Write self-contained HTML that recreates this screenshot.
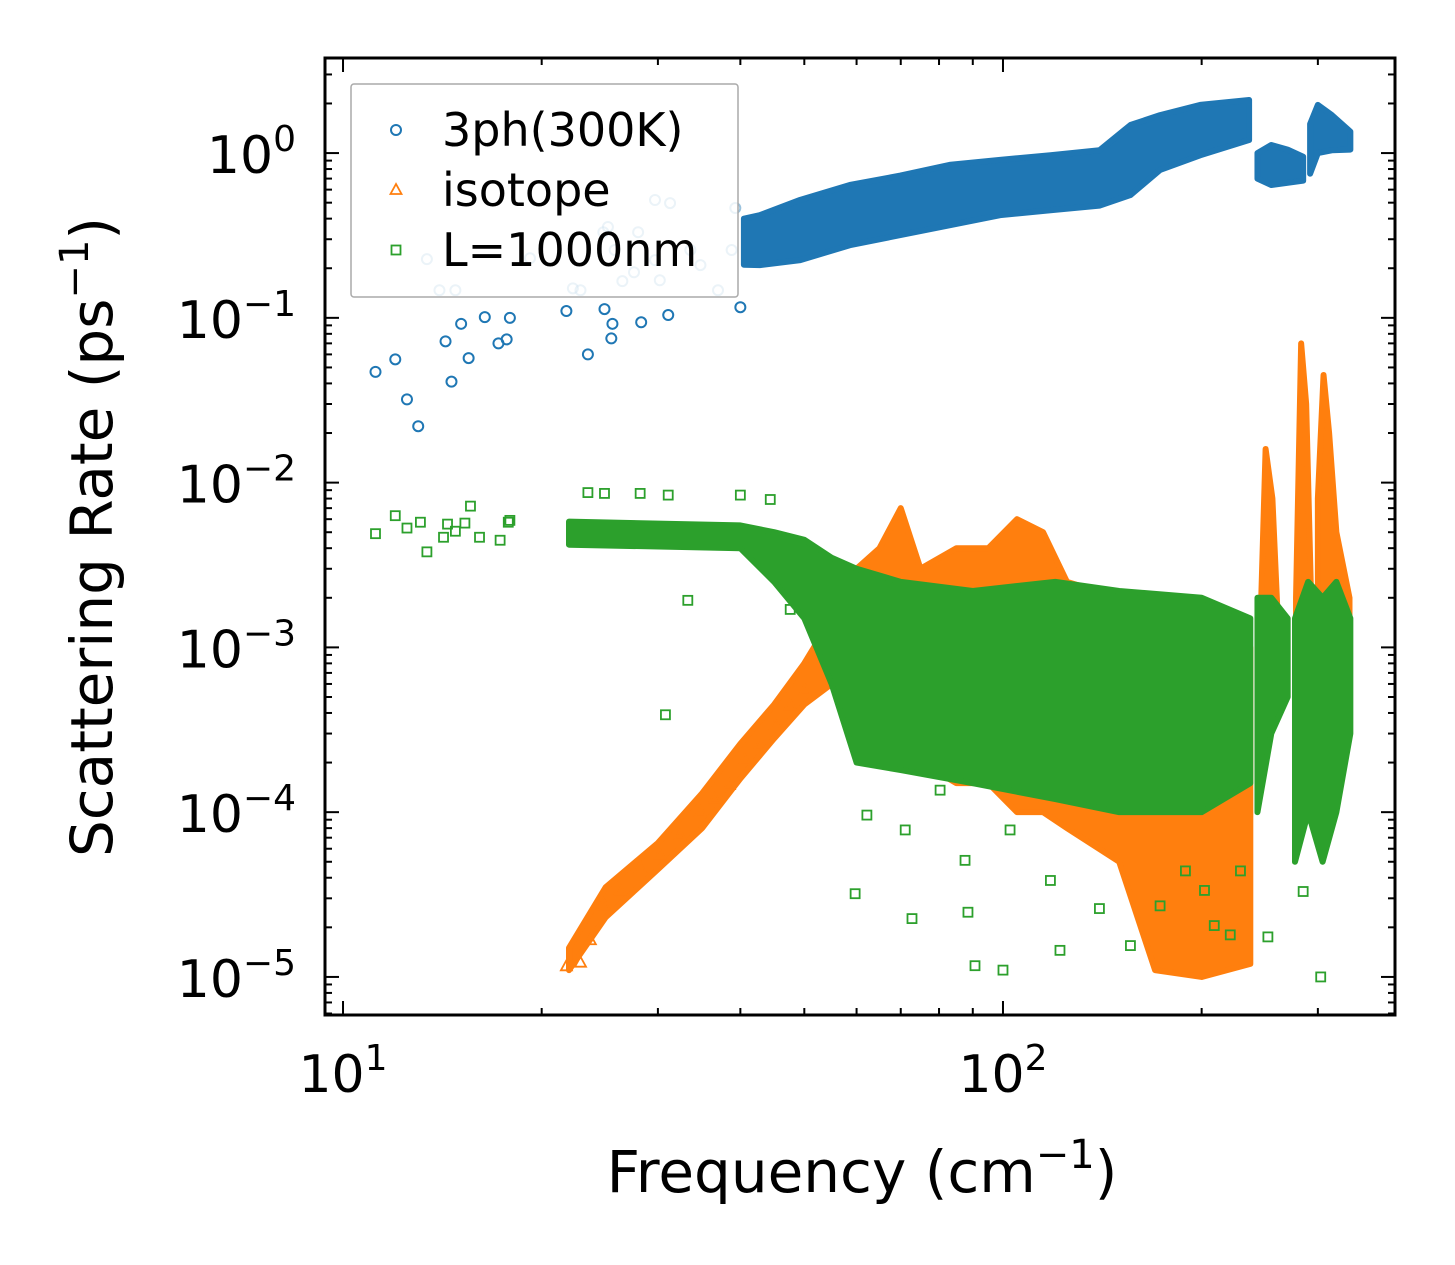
<!DOCTYPE html>
<html>
<head>
<meta charset="utf-8">
<style>
html,body{margin:0;padding:0;background:#fff;}
svg{display:block;}
text{font-family:"DejaVu Sans","Liberation Sans",sans-serif;fill:#000;}
</style>
</head>
<body>
<svg id="chart" width="1455" height="1265" viewBox="0 0 1455 1265" xmlns="http://www.w3.org/2000/svg">
  <rect x="0" y="0" width="1455" height="1265" fill="#fff"/>
  <g id="marks"></g>
  <g id="axes"></g>
  <g id="legend"></g>
  <text x="862" y="1192" font-size="58" text-anchor="middle">Frequency (cm<tspan font-size="40" dy="-24">−1</tspan><tspan dy="24">)</tspan></text>
  <text transform="translate(112,537) rotate(-90)" font-size="58" text-anchor="middle">Scattering Rate (ps<tspan font-size="40" dy="-24">−1</tspan><tspan dy="24">)</tspan></text>
</svg>
<script>
// ---- data (frequency in cm^-1, rate in ps^-1) ----
const blueScatterF = [11.2,12.0,12.5,13.0,14.3,14.6,15.1,15.5,16.4,17.2,17.7,17.9,21.8,23.5,24.9,25.5,25.6,28.3,31.1,40.0];
const blueScatterV = [0.047,0.056,0.032,0.022,0.072,0.041,0.092,0.057,0.101,0.070,0.074,0.10,0.11,0.060,0.113,0.075,0.092,0.094,0.104,0.116];
const blueFaintF = [13.4,14.0,14.8,19.2,22.3,22.9,24.8,25.2,25.8,26.5,27.6,28.0,29.7,31.3,29.7,30.2,33.6,34.8,37.0,39.3,38.8];
const blueFaintV = [0.227,0.147,0.147,0.23,0.151,0.147,0.331,0.356,0.258,0.167,0.189,0.331,0.519,0.497,0.224,0.169,0.258,0.209,0.147,0.464,0.258];
const blueBandF  = [40.5,42.8,49.3,58.6,69.9,83.3,99,118,140,156,173,199,236];
const blueBandLo = [0.21,0.209,0.224,0.276,0.318,0.366,0.42,0.45,0.48,0.556,0.79,0.97,1.20];
const blueBandHi = [0.40,0.42,0.52,0.64,0.73,0.85,0.91,0.97,1.04,1.48,1.70,1.96,2.10];
const blueClusterF  = [243,255,270,285];
const blueClusterLo = [0.70,0.64,0.66,0.68];
const blueClusterHi = [1.0,1.12,1.05,0.95];
const blueCluster2F  = [292,300,315,336];
const blueCluster2Lo = [0.75,1.0,1.04,1.05];
const blueCluster2Hi = [1.5,1.96,1.7,1.35];

const orangeF = [21.8,22.9,23.7,24.9,26.3,28.2,30.2,32.4,34.8,36.6,38.5,40.6,42.8,45.2,47.6,50.1];
const orangeV = [1.16e-5,1.22e-5,1.67e-5,2.7e-5,3.35e-5,4.6e-5,5.5e-5,7.2e-5,1.0e-4,1.21e-4,1.46e-4,2.07e-4,2.55e-4,3.37e-4,4.45e-4,5.5e-4];
const orangeBandF  = [22,25,30,35,40,45,50,55,60,65,70,75,85,95,105,115,125,150,170,200,237];
const orangeBandLo = [1.1e-5,2.3e-5,4.5e-5,8e-5,1.6e-4,2.8e-4,4.5e-4,6e-4,4e-4,3e-4,2e-4,2e-4,1.5e-4,1.5e-4,1e-4,1e-4,8e-5,5e-5,1.1e-5,1e-5,1.2e-5];
const orangeBandHi = [1.5e-5,3.5e-5,6.5e-5,1.3e-4,2.6e-4,4.5e-4,8e-4,1.5e-3,3e-3,4e-3,7e-3,3e-3,4e-3,4e-3,6e-3,5e-3,2.5e-3,2e-3,1.5e-3,1e-3,1e-3];
const orangeSpikeF  = [245,250,256,262, 278,283,288,293, 300,306,312,320,335];
const orangeSpikeLo = [5e-4,5e-4,5e-4,5e-4, 1e-3,1e-3,1e-3,1e-3, 1e-3,1e-3,1e-3,1e-3,1e-3];
const orangeSpikeHi = [1e-3,1.6e-2,8e-3,1e-3, 2e-3,7e-2,3e-2,2e-3, 8e-3,4.5e-2,2e-2,5e-3,2e-3];

const greenF = [11.2,12.0,12.5,13.1,13.4,14.2,14.4,14.8,15.3,15.6,16.1,17.3,17.8,17.9,23.5,24.9,28.2,31.1,33.3,30.8,40,44.4,47.6,
  59.7,62.2,71.1,72.8,80.3,87.6,88.5,90.7,100,102.5,118,122,140,156,173,189,202,209,221,229,252,303,285];
const greenV = [4.9e-3,6.3e-3,5.3e-3,5.75e-3,3.8e-3,4.66e-3,5.6e-3,5.07e-3,5.68e-3,7.2e-3,4.66e-3,4.47e-3,5.75e-3,5.9e-3,8.7e-3,8.6e-3,8.6e-3,8.4e-3,1.93e-3,3.9e-4,8.4e-3,7.9e-3,1.7e-3,
  3.2e-5,9.6e-5,7.8e-5,2.26e-5,1.36e-4,5.1e-5,2.47e-5,1.17e-5,1.1e-5,7.8e-5,3.85e-5,1.45e-5,2.6e-5,1.55e-5,2.7e-5,4.4e-5,3.35e-5,2.05e-5,1.8e-5,4.4e-5,1.75e-5,1.0e-5,3.3e-5];
const greenBandF  = [22,40,45,50,55,60,70,90,120,150,200,237];
const greenBandLo = [4.2e-3,4e-3,2.5e-3,1.5e-3,6e-4,2e-4,1.8e-4,1.5e-4,1.2e-4,1e-4,1e-4,1.5e-4];
const greenBandHi = [5.8e-3,5.5e-3,5e-3,4.5e-3,3.5e-3,3e-3,2.5e-3,2.2e-3,2.5e-3,2.2e-3,2e-3,1.5e-3];
const greenClusterF  = [243,255,270];
const greenClusterLo = [1e-4,3e-4,5e-4];
const greenClusterHi = [2e-3,2e-3,1.5e-3];
const greenCluster2F  = [277,290,305,320,336];
const greenCluster2Lo = [5e-5,1e-4,5e-5,1e-4,3e-4];
const greenCluster2Hi = [1.5e-3,2.5e-3,2e-3,2.5e-3,1.5e-3];

const xTickExp = [1,2];
const yTickExp = [0,-1,-2,-3,-4,-5];

// ---- axes ----
const L=325,R=1395,T=58,B=1015;
const xLogMin=0.9727,xLogMax=2.594,yLogMin=-5.231,yLogMax=0.577;
const xs=f=>L+(Math.log10(f)-xLogMin)/(xLogMax-xLogMin)*(R-L);
const ys=v=>B-(Math.log10(v)-yLogMin)/(yLogMax-yLogMin)*(B-T);
const NS="http://www.w3.org/2000/svg";
function mk(tag,attrs,parent){const e=document.createElementNS(NS,tag);for(const k in attrs)e.setAttribute(k,attrs[k]);parent.appendChild(e);return e;}
const marks=document.getElementById('marks'),axes=document.getElementById('axes'),legend=document.getElementById('legend');
const C={b:'#1f77b4',o:'#ff7f0e',g:'#2ca02c'};

function band(F,Lo,Hi,color,name){
  let pts=F.map((f,i)=>xs(f)+','+ys(Hi[i]));
  for(let i=F.length-1;i>=0;i--)pts.push(xs(F[i])+','+ys(Lo[i]));
  const p=mk('polygon',{points:pts.join(' '),fill:color,stroke:color,'stroke-width':6,'stroke-linejoin':'round'},marks);
  
  
}
function circle(x,y,color,op,parent,name){
  const c=mk('circle',{cx:x,cy:y,r:5,fill:'none',stroke:color,'stroke-width':2,opacity:op},parent);
  
  
}
function tri(x,y,color,parent,name){
  const p=mk('polygon',{points:`${x},${y-6} ${x-5.5},${y+4} ${x+5.5},${y+4}`,fill:'none',stroke:color,'stroke-width':1.8},parent);
  
  
}
function sq(x,y,color,parent,name){
  const p=mk('rect',{x:x-4.5,y:y-4.5,width:9,height:9,fill:'none',stroke:color,'stroke-width':1.8},parent);
  
  
}

// blue
band(blueBandF,blueBandLo,blueBandHi,C.b,'3ph-dense-band');
band(blueClusterF,blueClusterLo,blueClusterHi,C.b,'3ph-cluster-1');
band(blueCluster2F,blueCluster2Lo,blueCluster2Hi,C.b,'3ph-cluster-2');
blueScatterF.forEach((f,i)=>circle(xs(f),ys(blueScatterV[i]),C.b,1,marks,'3ph-point'));
blueFaintF.forEach((f,i)=>circle(xs(f),ys(blueFaintV[i]),C.b,0.45,marks,'3ph-point'));
// orange
band(orangeBandF,orangeBandLo,orangeBandHi,C.o,'isotope-band');
band(orangeSpikeF.slice(0,4),orangeSpikeLo.slice(0,4),orangeSpikeHi.slice(0,4),C.o,'isotope-spike-1');
band(orangeSpikeF.slice(4,8),orangeSpikeLo.slice(4,8),orangeSpikeHi.slice(4,8),C.o,'isotope-spike-2');
band(orangeSpikeF.slice(8),orangeSpikeLo.slice(8),orangeSpikeHi.slice(8),C.o,'isotope-spike-3');
orangeF.forEach((f,i)=>tri(xs(f),ys(orangeV[i]),C.o,marks,'isotope-point'));
// green
band(greenBandF,greenBandLo,greenBandHi,C.g,'boundary-band');
band(greenClusterF,greenClusterLo,greenClusterHi,C.g,'boundary-cluster-1');
band(greenCluster2F,greenCluster2Lo,greenCluster2Hi,C.g,'boundary-cluster-2');
greenF.forEach((f,i)=>sq(xs(f),ys(greenV[i]),C.g,marks,'boundary-point'));

// frame
const fr=mk('rect',{x:L,y:T,width:R-L,height:B-T,fill:'none',stroke:'#000','stroke-width':3},axes);


// x ticks
for(let e=0;e<=3;e++){for(let m=1;m<=9;m++){
  const f=m*Math.pow(10,e);const x=xs(f);if(x<L||x>R)continue;
  const len=m===1?14:7;
  mk('line',{x1:x,y1:B,x2:x,y2:B-len,stroke:'#000','stroke-width':2},axes);
  mk('line',{x1:x,y1:T,x2:x,y2:T+len,stroke:'#000','stroke-width':2},axes);
}}
xTickExp.forEach(e=>{
  const t=mk('text',{x:xs(Math.pow(10,e)),y:1092,'font-size':52,'text-anchor':'middle'},axes);
  t.innerHTML='10<tspan font-size="36" dy="-22">'+e+'</tspan>';
  
  
});
// y ticks
for(let e=-6;e<=1;e++){for(let m=1;m<=9;m++){
  const v=m*Math.pow(10,e);const y=ys(v);if(y<T||y>B)continue;
  const len=m===1?14:7;
  mk('line',{x1:L,y1:y,x2:L+len,y2:y,stroke:'#000','stroke-width':2},axes);
  mk('line',{x1:R,y1:y,x2:R-len,y2:y,stroke:'#000','stroke-width':2},axes);
}}
yTickExp.forEach(e=>{
  const t=mk('text',{x:296,y:ys(Math.pow(10,e))+20,'font-size':52,'text-anchor':'end'},axes);
  t.innerHTML='10<tspan font-size="36" dy="-22">'+(e<0?'−'+(-e):e)+'</tspan>';
  
  
});

// legend
const lb=mk('rect',{x:351,y:84,width:387,height:213,fill:'#fff','fill-opacity':0.8,stroke:'#aaa','stroke-width':1.5,rx:3},legend);


const labels=['3ph(300K)','isotope','L=1000nm'];
const ly=[130,190,250];
circle(396,ly[0],C.b,1,legend,'legend-marker-3ph');
tri(396,ly[1],C.o,legend,'legend-marker-isotope');
sq(396,ly[2],C.g,legend,'legend-marker-boundary');
labels.forEach((s,i)=>{
  const t=mk('text',{x:442,y:ly[i]+16,'font-size':46},legend);
  t.textContent=s;
  
  
});
</script>
</body>
</html>
